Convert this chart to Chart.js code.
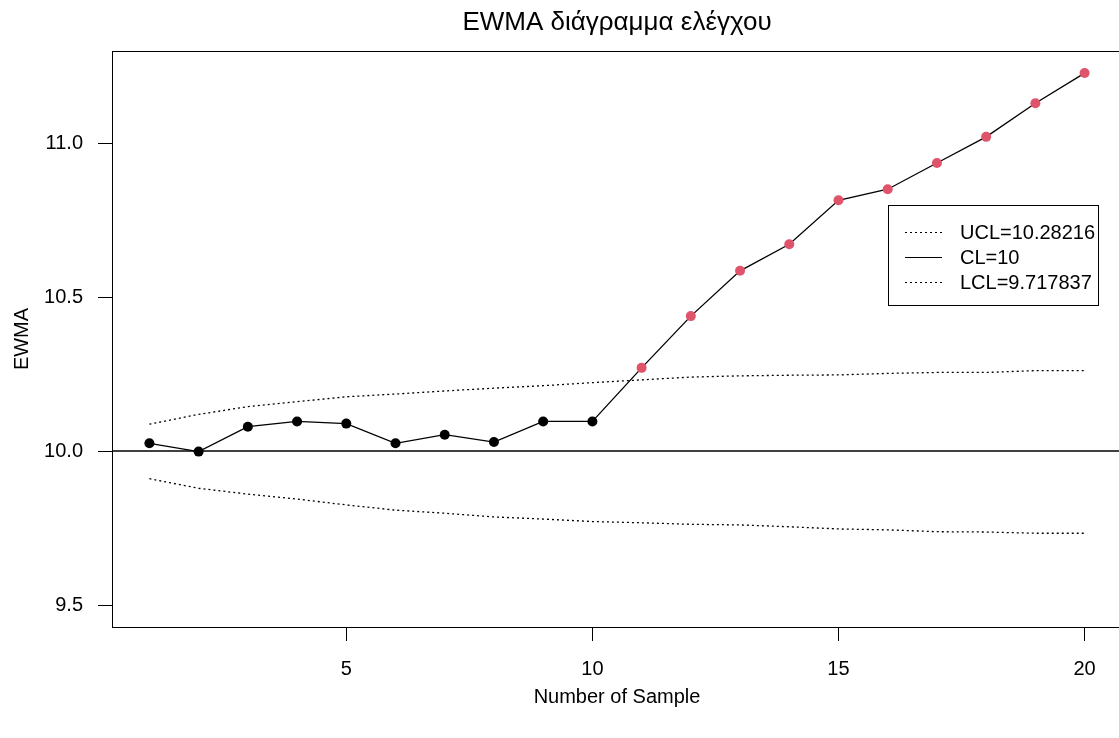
<!DOCTYPE html>
<html>
<head>
<meta charset="utf-8">
<script src="https://cdn.jsdelivr.net/npm/chart.js@4/dist/chart.umd.min.js"></script>
<style>
  html, body { margin: 0; padding: 0; background: #fff; overflow: hidden; }
  #wrap { position: relative; width: 1127px; height: 738px; }
</style>
</head>
<body>
<div id="wrap"><canvas id="c"></canvas></div>
<script>
// ---- data ----
const samples = [1,2,3,4,5,6,7,8,9,10,11,12,13,14,15,16,17,18,19,20];
const ewma = [10.025, 9.998, 10.079, 10.096, 10.089, 10.025, 10.053, 10.029, 10.096, 10.096,
              10.270, 10.438, 10.585, 10.671, 10.814, 10.850, 10.935, 11.020, 11.129, 11.227];
const ucl = [10.087, 10.119, 10.144, 10.160, 10.176, 10.185, 10.195, 10.204, 10.212, 10.222,
             10.231, 10.240, 10.244, 10.246, 10.247, 10.252, 10.255, 10.255, 10.261, 10.261];
const lcl = [9.910, 9.879, 9.860, 9.844, 9.825, 9.808, 9.798, 9.786, 9.779, 9.771,
             9.767, 9.762, 9.760, 9.754, 9.747, 9.744, 9.738, 9.737, 9.733, 9.733];
const centerLine = 10;
const xTicks = [5, 10, 15, 20];
const yTicks = [9.5, 10.0, 10.5, 11.0];
const legendLabels = ['UCL=10.28216', 'CL=10', 'LCL=9.717837'];
const titleText = 'EWMA διάγραμμα ελέγχου';
const xTitle = 'Number of Sample';
const yTitle = 'EWMA';

// ---- styling ----
const FONT = "'Liberation Sans', Arial, sans-serif";
const RED = '#DF536B';
const xMin = 0.24, xMax = 20.76, yMin = 9.4286, yMax = 11.2987;

const pts = (arr) => samples.map((s, i) => ({x: s, y: arr[i]}));
const pointColors = ewma.map((v, i) => (v > ucl[i] || v < lcl[i]) ? RED : '#000');

const boxPlugin = {
  id: 'boxAndLegend',
  afterDraw(chart) {
    const {ctx, chartArea: a} = chart;
    ctx.save();
    // main title centred on the plot region
    ctx.fillStyle = '#000';
    ctx.font = '26px ' + FONT;
    ctx.textAlign = 'center';
    ctx.textBaseline = 'middle';
    ctx.fillText(titleText, (a.left + a.right) / 2, 23);
    // plot box
    ctx.strokeStyle = '#000';
    ctx.lineWidth = 1;
    ctx.strokeRect(Math.round(a.left) + 0.5, Math.round(a.top) + 0.5,
                   Math.round(a.right - a.left), Math.round(a.bottom - a.top));
    // legend
    const lx = 888.5, ly = 205.5, lw = 210, lh = 100;
    ctx.fillStyle = '#fff';
    ctx.fillRect(lx, ly, lw, lh);
    ctx.strokeRect(lx, ly, lw, lh);
    ctx.font = '20px ' + FONT;
    ctx.textBaseline = 'middle';
    ctx.textAlign = 'left';
    ctx.fillStyle = '#000';
    const dashes = [[2, 3], [], [2, 3]];
    legendLabels.forEach((t, i) => {
      const y = 232.5 + i * 25;
      ctx.setLineDash(dashes[i]);
      ctx.lineWidth = 1.2;
      ctx.beginPath();
      ctx.moveTo(905, y);
      ctx.lineTo(942, y);
      ctx.stroke();
      ctx.setLineDash([]);
      ctx.fillText(t, 960, y + 1);
    });
    ctx.restore();
  }
};

new Chart(document.getElementById('c'), {
  type: 'line',
  data: {
    datasets: [
      {
        label: 'EWMA',
        data: pts(ewma),
        borderColor: '#000',
        borderWidth: 1.3,
        pointRadius: 5,
        pointBorderWidth: 0,
        pointBackgroundColor: pointColors,
        pointBorderColor: pointColors,
        tension: 0
      },
      {
        label: 'UCL',
        data: pts(ucl),
        borderColor: '#000',
        borderWidth: 1.3,
        borderDash: [2, 3],
        pointRadius: 0,
        tension: 0
      },
      {
        label: 'LCL',
        data: pts(lcl),
        borderColor: '#000',
        borderWidth: 1.3,
        borderDash: [2, 3],
        pointRadius: 0,
        tension: 0
      },
      {
        label: 'CL',
        data: [{x: xMin, y: centerLine}, {x: xMax, y: centerLine}],
        borderColor: '#000',
        borderWidth: 1.6,
        pointRadius: 0
      }
    ]
  },
  options: {
    responsive: true,
    maintainAspectRatio: false,
    animation: false,
    layout: { padding: { top: 51, left: 0, right: 0, bottom: 0 } },
    plugins: {
      legend: { display: false },
      tooltip: { enabled: false },
      title: { display: false }
    },
    scales: {
      x: {
        type: 'linear',
        min: xMin,
        max: xMax,
        border: { display: true, color: '#000', width: 1 },
        grid: { display: true, drawOnChartArea: false, drawTicks: true, tickLength: 14, color: '#000' },
        ticks: { color: '#000', font: { family: FONT, size: 20 }, padding: 16, maxRotation: 0 },
        afterBuildTicks: (s) => { s.ticks = xTicks.map(v => ({value: v})); },
        afterFit: (s) => { s.height = 111; },
        title: { display: true, text: xTitle, color: '#000', font: { family: FONT, size: 20 }, padding: { top: 0, bottom: 29 } }
      },
      y: {
        type: 'linear',
        min: yMin,
        max: yMax,
        border: { display: true, color: '#000', width: 1 },
        grid: { display: true, drawOnChartArea: false, drawTicks: true, tickLength: 14, color: '#000' },
        ticks: { color: '#000', font: { family: FONT, size: 20 }, padding: 15,
                 callback: (v) => Number(v).toFixed(1) },
        afterBuildTicks: (s) => { s.ticks = yTicks.map(v => ({value: v})); },
        afterFit: (s) => { s.width = 112; },
        title: { display: true, text: yTitle, color: '#000', font: { family: FONT, size: 20 }, padding: { top: 10, bottom: 0 } }
      }
    }
  },
  plugins: [boxPlugin]
});
</script>
</body>
</html>
